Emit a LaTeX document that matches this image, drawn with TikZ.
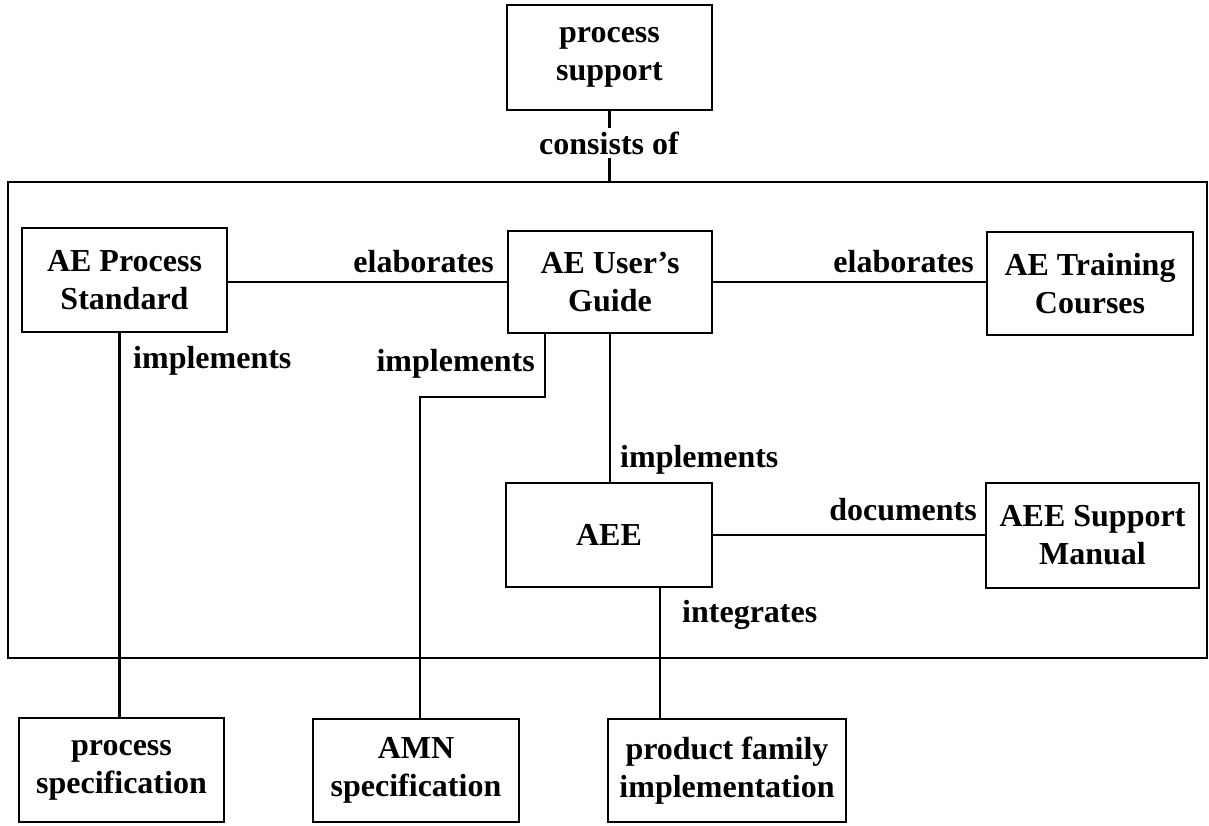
\documentclass[tikz,border=0pt]{standalone}
\usepackage{fontspec}
\setmainfont{Liberation Serif}
\begin{document}
\begin{tikzpicture}[x=1pt,y=-1pt,
  every node/.style={font=\fontsize{32}{38}\selectfont\bfseries},
  nbox/.style={draw, line width=2.4pt, align=center, inner sep=0pt},
  conn/.style={line width=2.2pt},
  lbl/.style={inner sep=0pt}]
\useasboundingbox (0,0) rectangle (1209,825);
% container
\node[draw, line width=2.4pt, minimum width=1199pt, minimum height=476pt, inner sep=0pt] (grp) at (607.5,420) {};
% boxes
\node[nbox, minimum width=205pt, minimum height=105pt] (ps) at (609.5,57.5) {process\\support};
\node[nbox, minimum width=205pt, minimum height=104pt] (aeps) at (124.5,280) {AE Process\\Standard};
\node[nbox, minimum width=204pt, minimum height=102pt] (ug) at (610,282) {AE User’s\\Guide};
\node[nbox, minimum width=206pt, minimum height=103pt] (tc) at (1090,283.5) {AE Training\\Courses};
\node[nbox, minimum width=206pt, minimum height=104pt] (aee) at (609,535) {AEE};
\node[nbox, minimum width=213pt, minimum height=105pt] (sm) at (1092.5,535.5) {AEE Support\\Manual};
\node[nbox, minimum width=205pt, minimum height=104pt] (pspec) at (121.5,770) {process\\specification};
\node[nbox, minimum width=206pt, minimum height=103pt] (amn) at (416,770.5) {AMN\\specification};
\node[nbox, minimum width=238pt, minimum height=103pt] (pfi) at (727,770.5) {product family\\implementation};
% connectors
\draw[conn] (ps.south) -- (ps.south |- grp.north);
\node[lbl, fill=white, inner ysep=4pt] (lcons) at (609,143) {consists of};
\draw[conn] (ug.west -| aeps.east) -- (ug.west);
\node[lbl, anchor=base east] (lel1) at (494,272) {elaborates};
\draw[conn] (ug.east) -- (ug.east -| tc.west);
\node[lbl, anchor=base east] (lel2) at (974,272) {elaborates};
\draw[conn] ([xshift=-2pt]pspec.north |- aeps.south) -- ([xshift=-2pt]pspec.north);
\node[lbl, anchor=base west] (lim1) at (133,368) {implements};
\coordinate (b1) at (420,397);
\draw[conn] ([xshift=-65pt]ug.south) |- (b1) -- (b1 |- amn.north);
\node[lbl, anchor=base east] (lim2) at (535,371) {implements};
\draw[conn] (ug.south) -- (ug.south |- aee.north);
\node[lbl, anchor=base west] (lim3) at (620,467) {implements};
\draw[conn] (aee.east) -- (aee.east -| sm.west);
\node[lbl, anchor=base east] (ldoc) at (977,520) {documents};
\draw[conn] ([xshift=51pt]aee.south) -- ([xshift=51pt]aee.south |- pfi.north);
\node[lbl, anchor=base west] (lint) at (682,622) {integrates};
\end{tikzpicture}
\end{document}
